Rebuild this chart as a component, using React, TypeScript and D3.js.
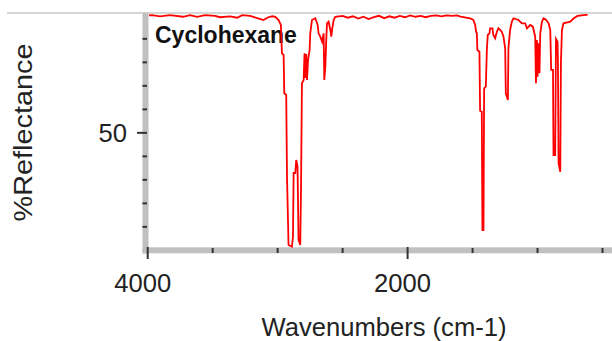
import React from "react";
import * as d3 from "d3";

// Spectrum (wavenumber in cm-1, %Reflectance)
const wavenumbers = [
  3990, 3967, 3905, 3828, 3728, 3674, 3620, 3559, 3481, 3443, 3366, 3312, 3273, 3211, 3157, 3110, 3072, 3041,
  3018, 2993, 2975, 2967, 2954, 2949, 2934, 2928, 2916, 2890, 2882, 2877, 2864, 2857, 2847, 2839, 2826, 2820,
  2813, 2800, 2793, 2785, 2780, 2774, 2766, 2754, 2749, 2736, 2710, 2692, 2685, 2672, 2658, 2646, 2641, 2633,
  2625, 2620, 2608, 2594, 2587, 2581, 2569, 2556,
  2500, 2460, 2420, 2380, 2340, 2300, 2260, 2220, 2180, 2140, 2100, 2060, 2020, 1980, 1940, 1900, 1860, 1820,
  1780, 1740, 1700, 1660, 1620, 1592,
  1519, 1494, 1480, 1473, 1467, 1463, 1447, 1442, 1429, 1424, 1416, 1411, 1398, 1390, 1383, 1370, 1365, 1347,
  1340, 1326, 1313, 1301, 1288, 1275, 1262, 1249, 1244, 1228, 1224, 1211, 1198, 1185, 1147, 1120, 1095, 1082,
  1056, 1036, 1018, 1012, 1005, 1000, 992, 985, 979, 966, 954, 933, 915, 902, 895, 881, 877, 864, 858, 846,
  843, 838, 825, 820, 812, 800, 748, 721, 692, 628, 615,
];
const reflectance = [
  75.0, 75.05, 74.8, 75.05, 74.7, 75.05, 74.7, 75.05, 74.9, 74.6, 74.8, 74.5, 75.05, 74.9, 74.4, 74.0, 74.6, 74.8,
  74.7, 74.0, 72.95, 66.93, 66.57, 58.42, 58.05, 40.67, 26.13, 25.77, 27.9, 41.46, 41.46, 44.23, 42.8, 27.2, 26.13, 38.54,
  60.54, 61.25, 66.93, 61.67, 66.78, 61.25, 65.5, 67.63, 71.18, 74.0, 74.38, 72.95, 71.18, 70.46, 69.4, 71.18, 61.25, 64.08,
  70.46, 73.3, 73.65, 71.89, 70.46, 71.89, 74.0, 74.7,
  74.9, 74.5, 74.8, 74.3, 74.7, 74.2, 74.6, 74.9, 74.4, 74.8, 74.5, 74.9, 74.6, 75.0, 74.7, 74.9, 74.6, 74.9,
  75.0, 74.8, 75.0, 74.9, 75.0, 74.72,
  74.38, 74.01, 72.95, 71.52, 71.18, 67.63, 67.27, 54.71, 54.5, 29.33, 29.33, 59.48, 59.82, 67.63, 70.82, 71.18, 72.25, 72.25,
  70.82, 70.12, 71.52, 72.25, 71.89, 71.52, 70.46, 67.99, 58.42, 56.99, 67.99, 71.89, 73.65, 74.38, 74.01, 73.31, 73.31, 72.25,
  72.95, 72.59, 70.46, 60.54, 69.75, 61.95, 69.06, 62.67, 71.18, 73.65, 74.38, 74.01, 73.31, 71.89, 63.38, 63.38, 45.29, 45.29, 70.0, 69.4,
  64.8, 43.52, 41.73, 64.8, 71.89, 73.31, 73.65, 74.38, 74.87, 75.1, 75.1,
];

const xTickValues = [4000, 3500, 3000, 2500, 2000, 1500, 1000, 500];
const xMajorTicks = [4000, 2000];
const yTickValues = [30, 35, 40, 45, 50, 55, 60, 65, 70];
const yMajorTicks = [50];
const xAxisTitle = "Wavenumbers (cm-1)";
const yAxisTitle = "%Reflectance";
const sampleName = "Cyclohexane";

export default function App() {
  const W = 612;
  const H = 341;
  const x = d3.scaleLinear().domain([4000, 500]).range([147.7, 602.5]);
  const y = d3.scaleLinear().domain([25.5, 75.5]).range([248, 13]);
  const pts = wavenumbers.map((w, i) => [w, reflectance[i]] as [number, number]);
  const line = d3
    .line<[number, number]>()
    .x((d) => x(d[0]))
    .y((d) => y(d[1]));
  const font = "'Liberation Sans', Arial, sans-serif";

  return (
    <svg
      width={W}
      height={H}
      style={{ position: "absolute", left: 0, top: 0, background: "#fff" }}
    >
      <rect x={0} y={0} width={W} height={H} fill="#fff" />
      {/* top border */}
      <line x1={7} x2={W} y1={13} y2={13} stroke="#c8c8c8" strokeWidth={1.5} />
      {/* axis bars */}
      <rect x={142.5} y={13} width={6} height={240.5} fill="#c0c0c0" />
      <rect x={142.5} y={247.3} width={W - 142.5} height={6} fill="#c0c0c0" />
      {/* x ticks */}
      {xTickValues.map((t) => {
        const major = xMajorTicks.includes(t);
        return (
          <line
            key={"xt" + t}
            x1={x(t)}
            x2={x(t)}
            y1={major ? 247 : 248}
            y2={major ? 259 : 253}
            stroke="#333"
            strokeWidth={2}
          />
        );
      })}
      {xMajorTicks.map((t) => (
        <text
          key={"xl" + t}
          x={x(t) - 5}
          y={291.5}
          textAnchor="middle"
          fontFamily={font}
          fontSize={25.6}
          fill="#222"
        >
          {t}
        </text>
      ))}
      {/* y ticks */}
      {yTickValues.map((t) => {
        const major = yMajorTicks.includes(t);
        return (
          <line
            key={"yt" + t}
            x1={major ? 137 : 142.5}
            x2={147}
            y1={y(t)}
            y2={y(t)}
            stroke="#333"
            strokeWidth={2}
          />
        );
      })}
      {yMajorTicks.map((t) => (
        <text
          key={"yl" + t}
          x={127}
          y={y(t) + 9.5}
          textAnchor="end"
          fontFamily={font}
          fontSize={25.6}
          fill="#222"
        >
          {t}
        </text>
      ))}
      {/* axis titles */}
      <text
        x={384}
        y={335.5}
        textAnchor="middle"
        fontFamily={font}
        fontSize={25.6}
        fill="#222"
        textLength={245}
        lengthAdjust="spacingAndGlyphs"
      >
        {xAxisTitle}
      </text>
      <text
        transform="translate(32,132.5) rotate(-90)"
        textAnchor="middle"
        fontFamily={font}
        fontSize={26}
        fill="#222"
        textLength={178}
        lengthAdjust="spacingAndGlyphs"
      >
        {yAxisTitle}
      </text>
      {/* sample name */}
      <text
        x={155}
        y={43}
        fontFamily={font}
        fontWeight="bold"
        fontSize={23}
        fill="#111"
      >
        {sampleName}
      </text>
      {/* spectrum */}
      <path d={line(pts) || ""} fill="none" stroke="#ff0000" strokeWidth={1.8} strokeLinejoin="miter" />
    </svg>
  );
}
